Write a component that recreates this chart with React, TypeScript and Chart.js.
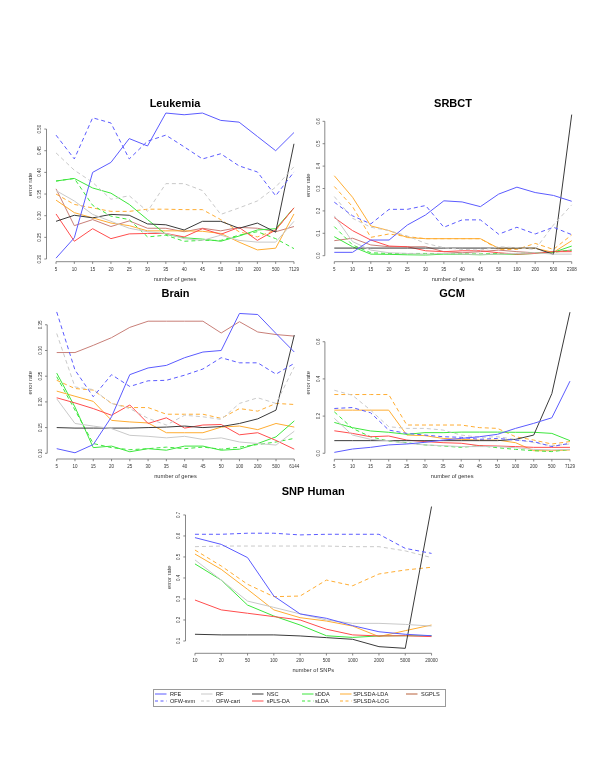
import React, { useEffect, useRef } from "react";
import { Chart, registerables } from "chart.js";

Chart.register(...registerables);

// ---------- methods / legend ----------
const methods = ["RFE", "OFW-svm", "RF", "OFW-cart", "NSC", "sPLS-DA", "sDDA", "sLDA", "SPLSDA-LDA", "SPLSDA-LOG", "SGPLS"];
const methodColors = ["#5b5bff", "#5b5bff", "#c9c9c9", "#c9c9c9", "#3a3a3a", "#ff4d4d", "#3de63d", "#3de63d", "#ffad33", "#ffad33", "#c87f78"];
const methodDashed = [false, true, false, true, false, false, false, true, false, true, false];
const legendColumns = [["RFE", "OFW-svm"], ["RF", "OFW-cart"], ["NSC", "sPLS-DA"], ["sDDA", "sLDA"], ["SPLSDA-LDA", "SPLSDA-LOG"], ["SGPLS"]];

// ---------- categories ----------
const leukemiaGenes = ["5", "10", "15", "20", "25", "30", "35", "40", "45", "50", "100", "200", "500", "7129"];
const srbctGenes = ["5", "10", "15", "20", "25", "30", "35", "40", "45", "50", "100", "200", "500", "2308"];
const brainGenes = ["5", "10", "15", "20", "25", "30", "35", "40", "45", "50", "100", "200", "500", "6144"];
const gcmGenes = ["5", "10", "15", "20", "25", "30", "35", "40", "45", "50", "100", "200", "500", "7129"];
const snpCounts = ["10", "20", "50", "100", "200", "500", "1000", "2000", "5000", "20000"];

// ---------- y tick labels ----------
const leukemiaTicks = ["0.20", "0.25", "0.30", "0.35", "0.40", "0.45", "0.50"];
const srbctTicks = ["0.0", "0.1", "0.2", "0.3", "0.4", "0.5", "0.6"];
const brainTicks = ["0.10", "0.15", "0.20", "0.25", "0.30", "0.35"];
const gcmTicks = ["0.0", "0.2", "0.4", "0.6"];
const snpTicks = ["0.1", "0.2", "0.3", "0.4", "0.5", "0.6", "0.7"];

// ---------- Leukemia ----------
const leuRFE = [0.202, 0.249, 0.40, 0.423, 0.478, 0.461, 0.537, 0.533, 0.537, 0.52, 0.516, 0.483, 0.45, 0.492];
const leuOFWsvm = [0.486, 0.431, 0.526, 0.514, 0.431, 0.472, 0.486, 0.459, 0.431, 0.443, 0.415, 0.401, 0.346, 0.401];
const leuRF = [0.358, 0.334, 0.303, 0.287, 0.271, 0.263, 0.259, 0.247, 0.243, 0.255, 0.243, 0.239, 0.239, 0.287];
const leuOFWcart = [0.445, 0.405, 0.377, 0.338, 0.346, 0.31, 0.374, 0.374, 0.358, 0.303, 0.318, 0.334, 0.366, 0.413];
const leuNSC = [0.287, 0.301, 0.295, 0.303, 0.301, 0.281, 0.279, 0.267, 0.287, 0.287, 0.271, 0.283, 0.262, 0.466];
const leuSPLSDA = [0.304, 0.241, 0.27, 0.247, 0.258, 0.259, 0.259, 0.251, 0.27, 0.257, 0.273, 0.243, 0.267, 0.318];
const leuSDDA = [0.38, 0.386, 0.364, 0.352, 0.326, 0.291, 0.257, 0.249, 0.246, 0.241, 0.253, 0.267, 0.27, 0.318];
const leuSLDA = [0.38, 0.386, 0.324, 0.299, 0.291, 0.251, 0.255, 0.241, 0.243, 0.243, 0.255, 0.263, 0.247, 0.224];
const leuSPLSDALDA = [0.336, 0.307, 0.295, 0.283, 0.277, 0.265, 0.265, 0.265, 0.264, 0.259, 0.239, 0.221, 0.225, 0.304];
const leuSPLSDALOG = [0.35, 0.326, 0.318, 0.31, 0.31, 0.315, 0.315, 0.314, 0.314, 0.291, 0.263, 0.251, 0.267, 0.318];
const leuSGPLS = [0.362, 0.277, 0.291, 0.275, 0.288, 0.271, 0.271, 0.263, 0.271, 0.265, 0.273, 0.271, 0.263, 0.275];

// ---------- SRBCT ----------
const srbRFE = [0.015, 0.015, 0.07, 0.07, 0.137, 0.182, 0.245, 0.24, 0.219, 0.275, 0.306, 0.282, 0.269, 0.243];
const srbOFWsvm = [0.239, 0.178, 0.142, 0.207, 0.207, 0.224, 0.127, 0.16, 0.16, 0.096, 0.127, 0.097, 0.127, 0.094];
const srbRF = [0.178, 0.063, 0.025, 0.013, 0.01, 0.007, 0.01, 0.007, 0.006, 0.007, 0.01, 0.013, 0.007, 0.007];
const srbOFWcart = [0.264, 0.167, 0.127, 0.112, 0.088, 0.055, 0.036, 0.028, 0.025, 0.04, 0.036, 0.028, 0.137, 0.227];
const srbNSC = [0.034, 0.034, 0.034, 0.034, 0.034, 0.034, 0.034, 0.034, 0.034, 0.034, 0.034, 0.034, 0.006, 0.63];
const srbSPLSDA = [0.17, 0.112, 0.07, 0.043, 0.04, 0.022, 0.018, 0.022, 0.022, 0.013, 0.007, 0.01, 0.018, 0.018];
const srbSDDA = [0.085, 0.04, 0.007, 0.006, 0.004, 0.003, 0.007, 0.006, 0.004, 0.007, 0.006, 0.01, 0.015, 0.043];
const srbSLDA = [0.13, 0.048, 0.013, 0.01, 0.01, 0.01, 0.01, 0.008, 0.008, 0.01, 0.01, 0.012, 0.015, 0.025];
const srbSPLSDALDA = [0.357, 0.261, 0.133, 0.112, 0.081, 0.076, 0.076, 0.076, 0.076, 0.033, 0.033, 0.033, 0.015, 0.067];
const srbSPLSDALOG = [0.309, 0.219, 0.082, 0.097, 0.085, 0.076, 0.076, 0.076, 0.076, 0.028, 0.028, 0.055, 0.028, 0.093];
const srbSGPLS = [0.067, 0.078, 0.048, 0.04, 0.04, 0.04, 0.018, 0.013, 0.018, 0.025, 0.018, 0.013, 0.018, 0.025];

// ---------- Brain ----------
const braRFE = [0.109, 0.101, 0.117, 0.171, 0.253, 0.266, 0.271, 0.286, 0.297, 0.30, 0.372, 0.37, 0.333, 0.297];
const braOFWsvm = [0.375, 0.262, 0.21, 0.253, 0.23, 0.241, 0.242, 0.252, 0.264, 0.286, 0.276, 0.276, 0.254, 0.275];
const braRF = [0.206, 0.158, 0.153, 0.148, 0.135, 0.133, 0.13, 0.133, 0.127, 0.13, 0.122, 0.119, 0.116, 0.143];
const braOFWcart = [0.333, 0.229, 0.224, 0.197, 0.187, 0.168, 0.155, 0.174, 0.171, 0.166, 0.197, 0.208, 0.197, 0.268];
const braNSC = [0.15, 0.149, 0.149, 0.149, 0.149, 0.15, 0.151, 0.153, 0.15, 0.152, 0.158, 0.167, 0.184, 0.33];
const braSPLSDA = [0.208, 0.198, 0.187, 0.174, 0.194, 0.158, 0.169, 0.149, 0.155, 0.156, 0.136, 0.14, 0.125, 0.108];
const braSDDA = [0.256, 0.19, 0.111, 0.114, 0.103, 0.109, 0.106, 0.114, 0.114, 0.106, 0.108, 0.119, 0.132, 0.163];
const braSLDA = [0.249, 0.184, 0.119, 0.111, 0.107, 0.109, 0.112, 0.109, 0.112, 0.108, 0.112, 0.117, 0.122, 0.129];
const braSPLSDALDA = [0.221, 0.211, 0.201, 0.164, 0.161, 0.159, 0.14, 0.14, 0.14, 0.151, 0.153, 0.146, 0.158, 0.151];
const braSPLSDALOG = [0.242, 0.226, 0.223, 0.197, 0.189, 0.189, 0.176, 0.176, 0.176, 0.168, 0.187, 0.182, 0.197, 0.195];
const braSGPLS = [0.296, 0.296, 0.31, 0.325, 0.345, 0.357, 0.357, 0.357, 0.357, 0.334, 0.356, 0.336, 0.331, 0.328];

// ---------- GCM ----------
const gcmRFE = [0.005, 0.023, 0.032, 0.045, 0.05, 0.059, 0.071, 0.08, 0.089, 0.102, 0.134, 0.161, 0.191, 0.388];
const gcmOFWsvm = [0.241, 0.246, 0.218, 0.125, 0.107, 0.098, 0.089, 0.086, 0.075, 0.08, 0.071, 0.063, 0.036, 0.054];
const gcmRF = [0.188, 0.098, 0.075, 0.068, 0.054, 0.045, 0.041, 0.036, 0.036, 0.036, 0.03, 0.021, 0.018, 0.021];
const gcmOFWcart = [0.339, 0.312, 0.232, 0.143, 0.134, 0.134, 0.125, 0.098, 0.086, 0.089, 0.075, 0.057, 0.041, 0.05];
const gcmNSC = [0.068, 0.068, 0.068, 0.068, 0.068, 0.068, 0.068, 0.068, 0.068, 0.068, 0.075, 0.098, 0.321, 0.759];
const gcmSPLSDA = [0.121, 0.107, 0.089, 0.093, 0.071, 0.063, 0.057, 0.054, 0.041, 0.039, 0.036, 0.032, 0.032, 0.032];
const gcmSDDA = [0.166, 0.138, 0.12, 0.113, 0.102, 0.111, 0.111, 0.114, 0.114, 0.114, 0.113, 0.113, 0.107, 0.068];
const gcmSLDA = [0.223, 0.134, 0.089, 0.066, 0.057, 0.045, 0.039, 0.032, 0.041, 0.03, 0.021, 0.014, 0.009, 0.021];
const gcmSPLSDALDA = [0.232, 0.232, 0.232, 0.232, 0.098, 0.095, 0.08, 0.075, 0.071, 0.071, 0.057, 0.014, 0.014, 0.018];
const gcmSPLSDALOG = [0.316, 0.316, 0.316, 0.316, 0.152, 0.152, 0.152, 0.152, 0.138, 0.134, 0.089, 0.071, 0.05, 0.063];

// ---------- SNP Human ----------
const snpRFE = [0.592, 0.56, 0.497, 0.314, 0.229, 0.208, 0.173, 0.144, 0.132, 0.125];
const snpOFWsvm = [0.608, 0.608, 0.613, 0.613, 0.605, 0.608, 0.608, 0.608, 0.541, 0.517];
const snpRF = [0.486, 0.39, 0.29, 0.26, 0.229, 0.2, 0.184, 0.184, 0.179, 0.171];
const snpOFWcart = [0.549, 0.552, 0.552, 0.552, 0.552, 0.552, 0.549, 0.549, 0.529, 0.497];
const snpNSC = [0.132, 0.129, 0.129, 0.129, 0.124, 0.116, 0.108, 0.073, 0.065, 0.74];
const snpSPLSDA = [0.295, 0.248, 0.232, 0.216, 0.2, 0.156, 0.129, 0.124, 0.125, 0.121];
const snpSDDA = [0.467, 0.39, 0.271, 0.219, 0.176, 0.125, 0.117, 0.124, 0.125, 0.125];
const snpSPLSDALDA = [0.514, 0.441, 0.346, 0.248, 0.211, 0.195, 0.171, 0.121, 0.149, 0.176];
const snpSPLSDALOG = [0.533, 0.457, 0.37, 0.311, 0.314, 0.39, 0.363, 0.419, 0.438, 0.451];

const FONT = '"Liberation Sans", Arial, Helvetica, sans-serif';

type Rect = { x: number; y: number; w: number; h: number };
type PanelSpec = {
  title: string;
  titleY: number;
  xTitle: string;
  cats: string[];
  yTicks: string[];
  series: (number[] | null)[];
  canvas: Rect;
  area: { left: number; right: number; top: number; bottom: number };
  yMin: number;
  yMax: number;
};

const panels: PanelSpec[] = [
  {
    title: "Leukemia", titleY: 104, xTitle: "number of genes", cats: leukemiaGenes, yTicks: leukemiaTicks,
    series: [leuRFE, leuOFWsvm, leuRF, leuOFWcart, leuNSC, leuSPLSDA, leuSDDA, leuSLDA, leuSPLSDALDA, leuSPLSDALOG, leuSGPLS],
    canvas: { x: 0, y: 85, w: 312, h: 205 }, area: { left: 46.5, right: 303.5, top: 107.4, bottom: 261.7 }, yMin: 0.1938, yMax: 0.55,
  },
  {
    title: "SRBCT", titleY: 104, xTitle: "number of genes", cats: srbctGenes, yTicks: srbctTicks,
    series: [srbRFE, srbOFWsvm, srbRF, srbOFWcart, srbNSC, srbSPLSDA, srbSDDA, srbSLDA, srbSPLSDALDA, srbSPLSDALOG, srbSGPLS],
    canvas: { x: 290, y: 85, w: 310, h: 205 }, area: { left: 324.8, right: 581.2, top: 109.0, bottom: 261.7 }, yMin: -0.0268, yMax: 0.655,
  },
  {
    title: "Brain", titleY: 293.5, xTitle: "number of genes", cats: brainGenes, yTicks: brainTicks,
    series: [braRFE, braOFWsvm, braRF, braOFWcart, braNSC, braSPLSDA, braSDDA, braSLDA, braSPLSDALDA, braSPLSDALOG, braSGPLS],
    canvas: { x: 0, y: 282, w: 312, h: 205 }, area: { left: 47.2, right: 303.8, top: 306.8, bottom: 459 }, yMin: 0.0889, yMax: 0.385,
  },
  {
    title: "GCM", titleY: 293.5, xTitle: "number of genes", cats: gcmGenes, yTicks: gcmTicks,
    series: [gcmRFE, gcmOFWsvm, gcmRF, gcmOFWcart, gcmNSC, gcmSPLSDA, gcmSDDA, gcmSLDA, gcmSPLSDALDA, gcmSPLSDALOG, null],
    canvas: { x: 290, y: 282, w: 310, h: 205 }, area: { left: 324.9, right: 579.4, top: 306.4, bottom: 459.3 }, yMin: -0.0323, yMax: 0.79,
  },
  {
    title: "SNP Human", titleY: 491.5, xTitle: "number of SNPs", cats: snpCounts, yTicks: snpTicks,
    series: [snpRFE, snpOFWsvm, snpRF, snpOFWcart, snpNSC, snpSPLSDA, snpSDDA, null, snpSPLSDALDA, snpSPLSDALOG, null],
    canvas: { x: 140, y: 478, w: 320, h: 210 }, area: { left: 185.5, right: 441, top: 501.3, bottom: 653.3 }, yMin: 0.0414, yMax: 0.765,
  },
];

const AXIS_COLOR = "#6a6a6a";
const TEXT_COLOR = "#333";

function rAxesPlugin(spec: PanelSpec) {
  return {
    id: "rAxes",
    afterDraw(chart: any) {
      const ctx = chart.ctx as CanvasRenderingContext2D;
      const xs = chart.scales.x;
      const ys = chart.scales.y;
      const a = chart.chartArea;
      const n = spec.cats.length;
      ctx.save();
      ctx.strokeStyle = AXIS_COLOR;
      ctx.lineWidth = 0.8;
      // x axis
      ctx.beginPath();
      ctx.moveTo(xs.getPixelForValue(0), a.bottom);
      ctx.lineTo(xs.getPixelForValue(n - 1), a.bottom);
      for (let i = 0; i < n; i++) {
        const px = xs.getPixelForValue(i);
        ctx.moveTo(px, a.bottom);
        ctx.lineTo(px, a.bottom + 2.2);
      }
      // y axis
      const tv = spec.yTicks.map((t) => parseFloat(t));
      ctx.moveTo(a.left, ys.getPixelForValue(tv[0]));
      ctx.lineTo(a.left, ys.getPixelForValue(tv[tv.length - 1]));
      tv.forEach((v) => {
        const py = ys.getPixelForValue(v);
        ctx.moveTo(a.left, py);
        ctx.lineTo(a.left - 2.2, py);
      });
      ctx.stroke();

      ctx.fillStyle = TEXT_COLOR;
      ctx.textAlign = "center";
      ctx.textBaseline = "middle";
      ctx.font = `4.5px ${FONT}`;
      spec.cats.forEach((c, i) => ctx.fillText(c, xs.getPixelForValue(i), a.bottom + 7.6));
      spec.yTicks.forEach((t, i) => {
        ctx.save();
        ctx.translate(a.left - 6.5, ys.getPixelForValue(tv[i]));
        ctx.rotate(-Math.PI / 2);
        ctx.fillText(t, 0, 0);
        ctx.restore();
      });
      ctx.font = `5.7px ${FONT}`;
      ctx.fillText(spec.xTitle, (a.left + a.right) / 2, a.bottom + 17.3);
      ctx.save();
      ctx.translate(a.left - 16.5, (a.top + a.bottom) / 2);
      ctx.rotate(-Math.PI / 2);
      ctx.fillText("error rate", 0, 0);
      ctx.restore();

      ctx.fillStyle = "#000";
      ctx.font = `bold 11px ${FONT}`;
      ctx.fillText(spec.title, (a.left + a.right) / 2, spec.titleY - spec.canvas.y);
      ctx.restore();
    },
  };
}

function Panel({ spec }: { spec: PanelSpec }) {
  const ref = useRef<HTMLCanvasElement>(null);
  useEffect(() => {
    const c = spec.canvas;
    const datasets: any[] = [];
    spec.series.forEach((vals, k) => {
      if (!vals) return;
      datasets.push({
        label: methods[k],
        data: vals.map((v, i) => ({ x: i, y: v })),
        borderColor: methodColors[k],
        backgroundColor: methodColors[k],
        borderWidth: 1,
        borderDash: methodDashed[k] ? [4, 3] : [],
        pointRadius: 0,
        tension: 0,
        fill: false,
        clip: false,
      });
    });
    const n = spec.cats.length;
    const chart = new Chart(ref.current as HTMLCanvasElement, {
      type: "line",
      data: { datasets },
      options: {
        animation: false,
        responsive: false,
        maintainAspectRatio: false,
        devicePixelRatio: 1,
        events: [],
        layout: {
          padding: {
            left: spec.area.left - c.x,
            right: c.x + c.w - spec.area.right,
            top: spec.area.top - c.y,
            bottom: c.y + c.h - spec.area.bottom,
          },
        },
        plugins: { legend: { display: false }, title: { display: false }, tooltip: { enabled: false } },
        scales: {
          x: { type: "linear", display: false, min: -0.04 * (n - 1), max: 1.04 * (n - 1) },
          y: { type: "linear", display: false, min: spec.yMin, max: spec.yMax },
        },
      },
      plugins: [rAxesPlugin(spec)],
    });
    return () => chart.destroy();
  }, [spec]);
  const c = spec.canvas;
  return (
    <canvas
      ref={ref}
      width={c.w}
      height={c.h}
      style={{ position: "absolute", left: c.x, top: c.y, width: c.w, height: c.h }}
    />
  );
}

const legendLineX = [155, 200.5, 251.7, 301.7, 340, 405.7];
const legendTextX = [170, 216, 266.7, 315, 353.3, 421];
const legendRowY = [694, 701];

function Legend() {
  const items: React.ReactNode[] = [];
  legendColumns.forEach((col, ci) => {
    col.forEach((name, ri) => {
      const k = methods.indexOf(name);
      const y = legendRowY[ri];
      items.push(
        <svg key={name + "l"} width={12} height={4} style={{ position: "absolute", left: legendLineX[ci], top: y - 2 }}>
          <line x1={0} y1={2} x2={11.5} y2={2} stroke={k === 10 ? "#b8603a" : methodColors[k]} strokeWidth={1} strokeDasharray={methodDashed[k] ? "3 2.5" : undefined} />
        </svg>
      );
      items.push(
        <span
          key={name + "t"}
          style={{ position: "absolute", left: legendTextX[ci], top: y - 3.5, fontSize: "5.6px", lineHeight: "7px", fontFamily: FONT, color: "#222", whiteSpace: "nowrap" }}
        >
          {name}
        </span>
      );
    });
  });
  return (
    <>
      <div style={{ position: "absolute", left: 153.3, top: 689, width: 292.7, height: 17.7, border: "0.8px solid #9a9a9a", boxSizing: "border-box" }} />
      {items}
    </>
  );
}

export default function App() {
  return (
    <div style={{ position: "absolute", left: 0, top: 0, width: 600, height: 776, background: "#fff", overflow: "hidden" }}>
      {panels.map((p) => (
        <Panel key={p.title} spec={p} />
      ))}
      <Legend />
    </div>
  );
}
